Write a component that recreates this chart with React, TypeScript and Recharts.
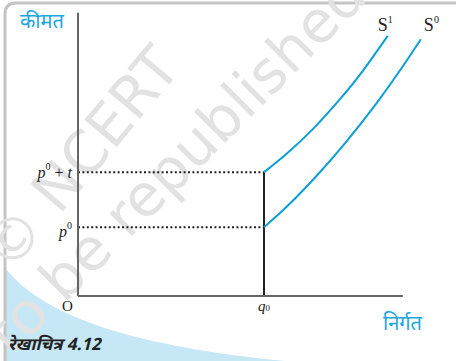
import { LineChart, Line, XAxis, YAxis, ReferenceLine } from 'recharts';

// supply curves (output, price)
const s0Curve = [
  { x: 6.0, y: 2.5 },
  { x: 6.73, y: 3.24 },
  { x: 7.7, y: 4.37 },
  { x: 8.67, y: 5.63 },
  { x: 9.64, y: 7.02 },
  { x: 10.39, y: 8.2 },
  { x: 11.06, y: 9.33 },
];

const s1Curve = [
  { x: 6.0, y: 4.5 },
  { x: 6.73, y: 5.17 },
  { x: 7.59, y: 6.08 },
  { x: 8.45, y: 7.15 },
  { x: 9.2, y: 8.2 },
  { x: 9.99, y: 9.45 },
];

const q0 = 6;
const p0 = 2.5;
const p0PlusT = 4.5;
const xAxisEnd = 10.48;
const yAxisEnd = 10.29;

const BLUE = '#0a9fd8';
const LABEL_BLUE = '#1aa7e0';
const SERIF = '"Liberation Serif", "DejaVu Serif", serif';
const HINDI = '"Noto Sans Devanagari", "Noto Sans", sans-serif';

const Sup = ({ base, sup, italic }: { base: string; sup: string; italic?: boolean }) => (
  <>
    <tspan fontStyle={italic ? 'italic' : 'normal'}>{base}</tspan>
    <tspan fontSize={10} dy={-8}>{sup}</tspan>
  </>
);

export default function App() {
  return (
    <div style={{ position: 'absolute', left: 0, top: 0, width: 456, height: 361, background: '#fff', overflow: 'hidden' }}>
      {/* page decoration: frame, swoosh, watermark, caption */}
      <svg width={456} height={361} style={{ position: 'absolute', left: 0, top: 0 }}>
        <path d="M5,268 C40,312 120,345 285,361 L5,361 Z" fill="#c6e7f6" />
        <path d="M5,361 V14 Q5,3 16,3 H456" fill="none" stroke="#c4c4c4" strokeWidth={3} />
        <g fill="#e2e2e2" fontFamily='"DejaVu Sans", sans-serif' fontSize={58}>
          <text transform="translate(10,274) rotate(-50)">© NCERT</text>
          <text transform="translate(64,304) rotate(-45)">be republished</text>
          <text transform="translate(52,316) rotate(-45)" textAnchor="end">not to</text>
        </g>
        <text x={8} y={350} fontFamily={HINDI} fontWeight="bold" fontStyle="italic" fontSize={17} fill="#222">
          रेखाचित्र 4.12
        </text>
        <text x={20} y={28} fontFamily={HINDI} fontSize={20} fill={LABEL_BLUE}>कीमत</text>
        <text x={383} y={330} fontFamily={HINDI} fontSize={20} fill={LABEL_BLUE}>निर्गत</text>
      </svg>

      <div style={{ position: 'absolute', left: 0, top: 0 }}>
        <LineChart width={456} height={361} margin={{ top: 7, right: 6, bottom: 65, left: 78 }}>
          <XAxis type="number" dataKey="x" domain={[0, 12]} hide />
          <YAxis type="number" dataKey="y" domain={[0, 10.5]} hide />

          <ReferenceLine
            segment={[{ x: 0, y: p0PlusT }, { x: q0, y: p0PlusT }]}
            stroke="#222"
            strokeWidth={2}
            strokeDasharray="2 2.4"
            label={({ viewBox }: any) => (
              <text x={viewBox.x - 6} y={viewBox.y + 6} textAnchor="end" fontFamily={SERIF} fontSize={16} fill="#222">
                <Sup base="p" sup="0" italic />
                <tspan dy={8}> + </tspan>
                <tspan fontStyle="italic">t</tspan>
              </text>
            )}
          />
          <ReferenceLine
            segment={[{ x: 0, y: p0 }, { x: q0, y: p0 }]}
            stroke="#222"
            strokeWidth={2}
            strokeDasharray="2 2.4"
            label={({ viewBox }: any) => (
              <text x={viewBox.x - 6} y={viewBox.y + 10} textAnchor="end" fontFamily={SERIF} fontSize={16} fill="#222">
                <Sup base="p" sup="0" italic />
              </text>
            )}
          />
          <ReferenceLine
            segment={[{ x: q0, y: 0 }, { x: q0, y: p0PlusT }]}
            stroke="#222"
            strokeWidth={2}
            label={({ viewBox }: any) => (
              <text x={viewBox.x - 6} y={viewBox.y + viewBox.height + 15} fontFamily={SERIF} fontSize={15} fill="#222">
                <tspan fontStyle="italic">q</tspan>
                <tspan fontSize={9}>0</tspan>
              </text>
            )}
          />

          {/* axes */}
          <ReferenceLine
            segment={[{ x: 0, y: 0 }, { x: 0, y: yAxisEnd }]}
            stroke="#666"
            strokeWidth={2}
            label={({ viewBox }: any) => (
              <text x={viewBox.x - 16} y={viewBox.y + viewBox.height + 15} fontFamily={SERIF} fontSize={15} fill="#222">O</text>
            )}
          />
          <ReferenceLine segment={[{ x: 0, y: 0 }, { x: xAxisEnd, y: 0 }]} stroke="#666" strokeWidth={2} />

          <Line
            data={s1Curve}
            dataKey="y"
            type="natural"
            stroke={BLUE}
            strokeWidth={2}
            dot={false}
            isAnimationActive={false}
            label={({ x, y, index }: any) =>
              index === s1Curve.length - 1 ? (
                <text x={x - 10} y={y - 5} fontFamily={SERIF} fontSize={18} fill="#222">
                  <Sup base="S" sup="1" />
                </text>
              ) : null
            }
          />
          <Line
            data={s0Curve}
            dataKey="y"
            type="natural"
            stroke={BLUE}
            strokeWidth={2}
            dot={false}
            isAnimationActive={false}
            label={({ x, y, index }: any) =>
              index === s0Curve.length - 1 ? (
                <text x={x + 3} y={y - 8} fontFamily={SERIF} fontSize={18} fill="#222">
                  <Sup base="S" sup="0" />
                </text>
              ) : null
            }
          />
        </LineChart>
      </div>
    </div>
  );
}
